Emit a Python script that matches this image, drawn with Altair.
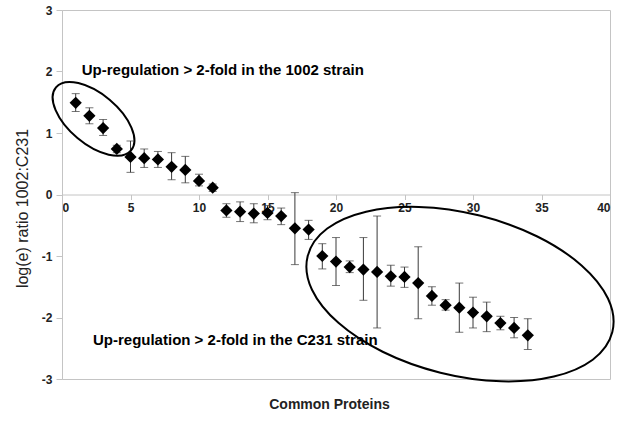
import math
import altair as alt
import pandas as pd

# ---- data ----
protein_idx = list(range(1, 35))
log_ratio = [1.49, 1.28, 1.08, 0.74, 0.61, 0.59, 0.57, 0.45, 0.40, 0.22, 0.11,
             -0.26, -0.28, -0.31, -0.30, -0.35, -0.55, -0.57, -1.00, -1.09, -1.18,
             -1.22, -1.26, -1.33, -1.34, -1.44, -1.65, -1.80, -1.84, -1.92, -1.98,
             -2.09, -2.17, -2.29]
err_high = [1.64, 1.41, 1.22, 0.80, 0.87, 0.74, 0.70, 0.68, 0.62, 0.33, 0.17,
            -0.15, -0.12, -0.15, -0.18, -0.22, 0.03, -0.42, -0.80, -0.70, -1.08,
            -0.70, -0.35, -1.15, -1.18, -0.85, -1.50, -1.71, -1.44, -1.67, -1.75,
            -1.98, -2.00, -2.02]
err_low = [1.35, 1.15, 0.96, 0.68, 0.36, 0.44, 0.44, 0.24, 0.19, 0.14, 0.05,
           -0.37, -0.44, -0.46, -0.41, -0.49, -1.14, -0.73, -1.21, -1.48, -1.27,
           -1.72, -2.17, -1.49, -1.51, -2.02, -1.80, -1.88, -2.24, -2.17, -2.23,
           -2.20, -2.33, -2.52]

x_ticks = [0, 5, 10, 15, 20, 25, 30, 35, 40]
y_ticks = [-3, -2, -1, 0, 1, 2, 3]

annot_text = ["Up-regulation > 2-fold in the 1002 strain",
              "Up-regulation > 2-fold in the C231 strain"]
annot_x = [1.44, 2.26]
annot_y = [2.02, -2.37]

# ellipse annotations: centre (data units), semi-axes (px), tilt (deg)
ell_x = [2.30, 29.05]
ell_y = [1.23, -1.62]
ell_a = [49, 157]
ell_b = [25, 81]
ell_rot = [40, 14]

FONT = "Liberation Sans"
GRAY = "#c4c4c4"

df = pd.DataFrame({"idx": protein_idx, "val": log_ratio,
                   "hi": err_high, "lo": err_low})
df_txt = pd.DataFrame({"t": annot_text, "x": annot_x, "y": annot_y})

x_scale = alt.Scale(domain=[0, 40], nice=False, zero=False)
y_scale = alt.Scale(domain=[-3, 3], nice=False, zero=False)

x_axis = alt.Axis(values=x_ticks, labelExpr="'' + datum.value", grid=False,
                  offset=-184.5,
                  domainColor=GRAY, tickColor=GRAY, tickSize=5,
                  labelFont=FONT, labelFontSize=12, labelFontWeight="bold",
                  labelColor="#222222", labelPadding=3,
                  title="Common Proteins", titleFont=FONT, titleFontSize=14,
                  titleFontWeight="bold", titleColor="#222222",
                  titleX=267, titleY=210, titleBaseline="middle",
                  titleAlign="center")
y_axis = alt.Axis(values=y_ticks, labelExpr="'' + datum.value", grid=False,
                  domainColor=GRAY, tickColor=GRAY, tickSize=6,
                  labelFont=FONT, labelFontSize=12, labelFontWeight="bold",
                  labelColor="#222222", labelPadding=4,
                  title="log(e) ratio 1002:C231", titleFont=FONT,
                  titleFontSize=16, titleFontWeight="normal",
                  titleColor="#222222", titleX=-40, titleY=198,
                  titleBaseline="middle", titleAlign="center", titleAngle=270)

base = alt.Chart(df)

bars = base.mark_rule(color="#3a3a3a", strokeWidth=1).encode(
    x=alt.X("idx:Q", scale=x_scale, axis=x_axis),
    y=alt.Y("lo:Q", scale=y_scale, axis=y_axis),
    y2="hi:Q",
)
cap_hi = base.mark_tick(orient="horizontal", size=8, thickness=1,
                        color="#3a3a3a").encode(
    x=alt.X("idx:Q", scale=x_scale), y=alt.Y("hi:Q", scale=y_scale))
cap_lo = base.mark_tick(orient="horizontal", size=8, thickness=1,
                        color="#3a3a3a").encode(
    x=alt.X("idx:Q", scale=x_scale), y=alt.Y("lo:Q", scale=y_scale))
points = base.mark_point(shape="diamond", filled=True, size=150,
                         color="black", opacity=1).encode(
    x=alt.X("idx:Q", scale=x_scale), y=alt.Y("val:Q", scale=y_scale))

texts = alt.Chart(df_txt).mark_text(
    font=FONT, fontSize=15, fontWeight="bold", color="black",
    align="left", baseline="middle").encode(
    x=alt.X("x:Q", scale=x_scale), y=alt.Y("y:Q", scale=y_scale), text="t:N")


def ellipse_path(a, b, deg):
    t = math.radians(deg)
    x1, y1 = a * math.cos(t), a * math.sin(t)
    return (f"M {x1:.2f} {y1:.2f} A {a} {b} {deg} 0 1 {-x1:.2f} {-y1:.2f} "
            f"A {a} {b} {deg} 0 1 {x1:.2f} {y1:.2f} Z")


ellipses = []
for i in range(len(ell_x)):
    d = pd.DataFrame({"x": [ell_x[i]], "y": [ell_y[i]]})
    ellipses.append(
        alt.Chart(d).mark_point(shape=ellipse_path(ell_a[i], ell_b[i], ell_rot[i]),
                                size=4, filled=False, stroke="black",
                                strokeWidth=2, opacity=1).encode(
            x=alt.X("x:Q", scale=x_scale), y=alt.Y("y:Q", scale=y_scale)))

chart = alt.layer(bars, cap_hi, cap_lo, points, texts, *ellipses).properties(
    width=548, height=369,
    autosize=alt.AutoSizeParams(type="none"),
    padding={"left": 62, "top": 10, "right": 8, "bottom": 42},
    background="white",
).configure_view(stroke=GRAY, strokeWidth=1)

chart.save("out.html", embed_options={"renderer": "svg", "actions": False})
